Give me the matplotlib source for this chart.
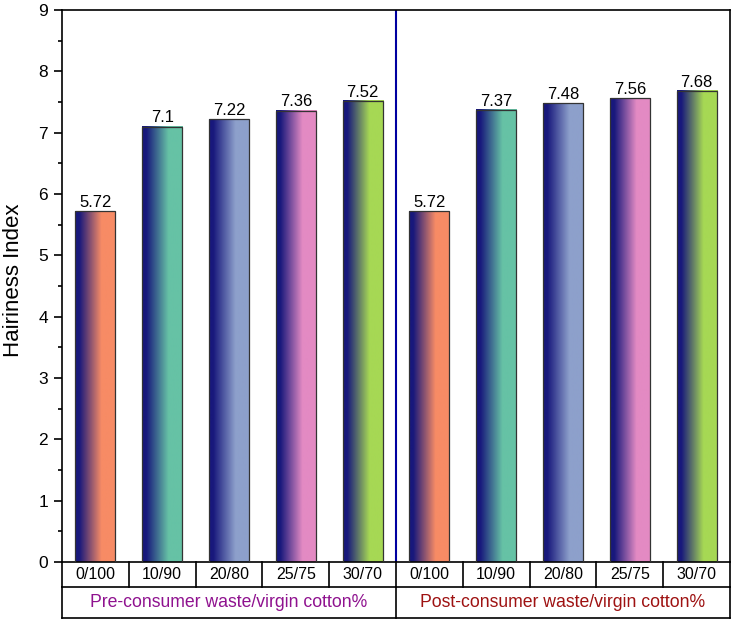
import numpy as np
import matplotlib
matplotlib.use("Agg")
import matplotlib.pyplot as plt
from matplotlib.colors import to_rgb
from matplotlib.patches import Rectangle
from matplotlib.ticker import MultipleLocator

plt.rcParams['font.family'] = ['Liberation Sans', 'DejaVu Sans']

categories = ["0/100", "10/90", "20/80", "25/75", "30/70"]
pre_values = [5.72, 7.1, 7.22, 7.36, 7.52]
post_values = [5.72, 7.37, 7.48, 7.56, 7.68]
pre_label_txt = ["5.72", "7.1", "7.22", "7.36", "7.52"]
post_label_txt = ["5.72", "7.37", "7.48", "7.56", "7.68"]
groups = ["Pre-consumer waste/virgin cotton%", "Post-consumer waste/virgin cotton%"]
group_colors = ["#8f128f", "#9e1212"]
bar_end_colors = ["#f78b65", "#66c2a5", "#8da0cb", "#e38ac3", "#a6d854"]
navy = "#18187c"

values = pre_values + post_values
labels_txt = pre_label_txt + post_label_txt
cats = categories + categories
ends = bar_end_colors + bar_end_colors

fig = plt.figure(figsize=(7.33, 6.21), dpi=100)
ax = fig.add_axes([62/733, 59/621, 668/733, 552/621])

width = 0.6
n = 64
t = np.linspace(0, 1, n)
s = np.clip((t - 0.1) / 0.55, 0, 1)
for i, (v, c) in enumerate(zip(values, ends)):
    c0 = np.array(to_rgb(navy))
    c1 = np.array(to_rgb(c))
    row = c0[None, :] * (1 - s[:, None]) + c1[None, :] * s[:, None]
    img = row[None, :, :]
    ax.imshow(img, extent=[i - width/2, i + width/2, 0, v], aspect='auto',
              interpolation='bilinear', zorder=2)
    ax.add_patch(Rectangle((i - width/2, 0), width, v, fill=False,
                           edgecolor='#333333', lw=0.9, zorder=3))
    ax.text(i, v + 0.02, labels_txt[i], ha='center', va='bottom', fontsize=12, zorder=4)

ax.axvline(4.5, color='#0000a0', lw=1.5, zorder=1)

ax.set_xlim(-0.5, 9.5)
ax.set_ylim(0, 9)
ax.set_xticks([])
ax.yaxis.set_major_locator(MultipleLocator(1))
ax.yaxis.set_minor_locator(MultipleLocator(0.5))
ax.tick_params(axis='y', which='major', length=6, width=1.2, labelsize=12.5, direction='out', pad=4)
ax.tick_params(axis='y', which='minor', length=3, width=1.2, direction='out')
for sp in ax.spines.values():
    sp.set_linewidth(1.2)
ax.set_ylabel("Hairiness Index", fontsize=16)
ax.yaxis.set_label_coords(-0.0565, 0.51)

tr = ax.transAxes
y1 = -25/552
y2 = -56/552
lc = 'black'
lw = 1.2
ax.plot([0, 1], [y1, y1], transform=tr, color=lc, lw=lw, clip_on=False)
ax.plot([0, 1], [y2, y2], transform=tr, color=lc, lw=lw, clip_on=False)
for k in range(11):
    xx = k / 10
    ax.plot([xx, xx], [0, y1], transform=tr, color=lc, lw=lw, clip_on=False)
for xx in [0, 0.5, 1]:
    ax.plot([xx, xx], [y1, y2], transform=tr, color=lc, lw=lw, clip_on=False)
for k, c in enumerate(cats):
    ax.text((k + 0.5) / 10, y1 / 2, c, transform=tr, ha='center', va='center', fontsize=11.5)
for g, (name, col) in enumerate(zip(groups, group_colors)):
    ax.text(0.25 + 0.5 * g, (y1 + y2) / 2, name, transform=tr, ha='center', va='center',
            fontsize=12.7, color=col)

fig.savefig("out.png", dpi=100)
